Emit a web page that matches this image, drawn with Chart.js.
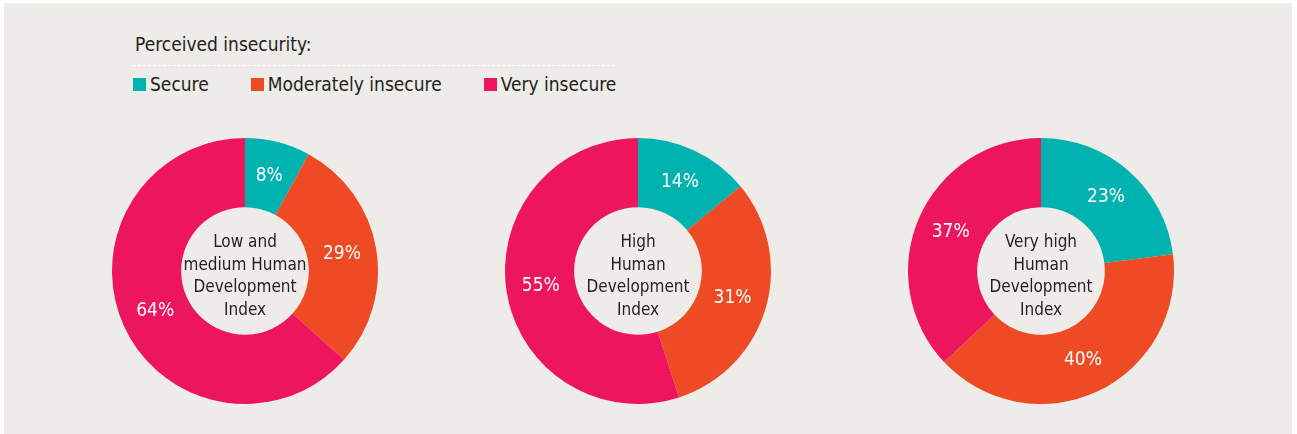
<!DOCTYPE html>
<html>
<head>
<meta charset="utf-8">
<script src="https://cdn.jsdelivr.net/npm/chart.js@4/dist/chart.umd.min.js"></script>
<style>
  html, body { margin: 0; padding: 0; background: #fff; }
  body { width: 1297px; height: 434px; position: relative; overflow: hidden;
         font-family: "DejaVu Sans Condensed", "Liberation Sans Narrow", sans-serif; color: #231f20; }
  #panel { position: absolute; left: 4px; top: 3px; width: 1288px; height: 431px; background: #edece9; }
  #titolo { position: absolute; left: 135px; top: 33px; font-size: 19px; line-height: 22px; }
  #riga { position: absolute; left: 133px; top: 65px; width: 482px; border-top: 1px dashed #fff; }
  #legenda { position: absolute; left: 133px; top: 73px; display: flex; font-size: 19px; line-height: 22px; }
  #legenda .voce { display: flex; align-items: center; margin-right: 42px; }
  #legenda .quadrato { width: 13px; height: 13px; margin-right: 4px; margin-top: 1px; }
  canvas { position: absolute; }
</style>
</head>
<body>
<div id="panel"></div>
<div id="titolo">Perceived insecurity:</div>
<div id="riga"></div>
<div id="legenda"></div>
<canvas id="g0" width="266" height="266"></canvas>
<canvas id="g1" width="266" height="266"></canvas>
<canvas id="g2" width="266" height="266"></canvas>
<script>
// Categorie e colori
const categorie = ["Secure", "Moderately insecure", "Very insecure"];
const colori = ["#00b3b1", "#ee4a23", "#ed165e"];

// Valori (%) per gruppo di sviluppo umano
const bassoMedio = [8, 29, 64];
const alto = [14, 31, 55];
const moltoAlto = [23, 40, 37];

// Testo al centro di ogni ciambella
const etichetteCentro = [
    ["Low and", "medium Human", "Development", "Index"],
    ["High", "Human", "Development", "Index"],
    ["Very high", "Human", "Development", "Index"]
];

const centri = [245, 638, 1041];
const serie = [bassoMedio, alto, moltoAlto];

// Legenda HTML
const legenda = document.getElementById("legenda");
categorie.forEach((c, i) => {
    const voce = document.createElement("div");
    voce.className = "voce";
    const q = document.createElement("div");
    q.className = "quadrato";
    q.style.background = colori[i];
    const t = document.createElement("span");
    t.textContent = c;
    voce.appendChild(q);
    voce.appendChild(t);
    legenda.appendChild(voce);
});

// Plugin per percentuali e testo centrale
const etichettePlugin = {
    id: "etichette",
    afterDatasetsDraw(chart, args, opts) {
        const ctx = chart.ctx;
        const meta = chart.getDatasetMeta(0);
        const dati = chart.data.datasets[0].data;
        ctx.save();
        ctx.textAlign = "center";
        ctx.textBaseline = "middle";
        ctx.font = '19px "DejaVu Sans Condensed"';
        ctx.fillStyle = "#ffffff";
        meta.data.forEach((arco, i) => {
            const p = arco.tooltipPosition();
            ctx.fillText(dati[i] + "%", p.x, p.y);
        });
        const a = chart.chartArea;
        const cx = (a.left + a.right) / 2;
        const cy = (a.top + a.bottom) / 2;
        ctx.font = '17px "DejaVu Sans Condensed"';
        ctx.fillStyle = "#231f20";
        const righe = opts.righe || [];
        righe.forEach((r, i) => {
            ctx.fillText(r, cx, cy + 5.5 + (i - (righe.length - 1) / 2) * 22.7);
        });
        ctx.restore();
    }
};

serie.forEach((valori, k) => {
    const cv = document.getElementById("g" + k);
    cv.style.left = (centri[k] - 133) + "px";
    cv.style.top = (271 - 133) + "px";
    new Chart(cv.getContext("2d"), {
        type: "doughnut",
        data: {
            labels: categorie,
            datasets: [{
                data: valori,
                backgroundColor: colori,
                borderWidth: 0
            }]
        },
        options: {
            responsive: false,
            animation: false,
            events: [],
            cutout: "48%",
            layout: { padding: 0 },
            plugins: {
                legend: { display: false },
                tooltip: { enabled: false },
                etichette: { righe: etichetteCentro[k] }
            }
        },
        plugins: [etichettePlugin]
    });
});
</script>
</body>
</html>
